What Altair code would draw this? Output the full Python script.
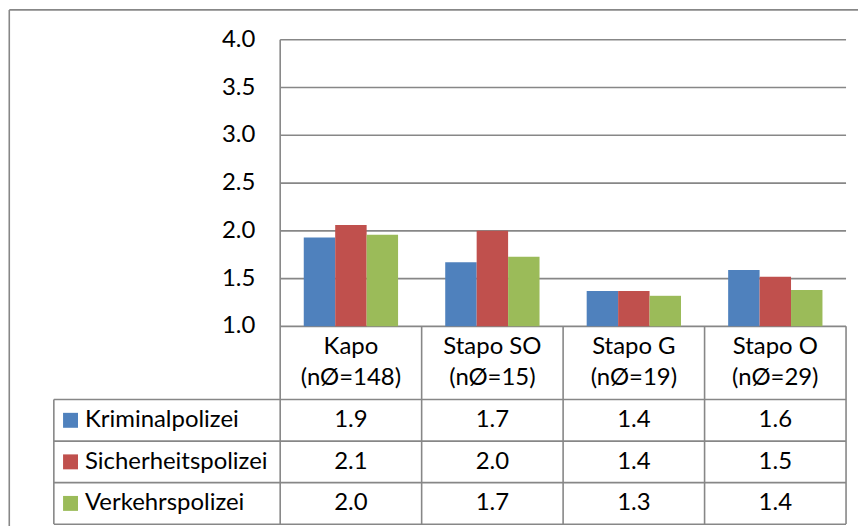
import altair as alt
import pandas as pd

# ---------------- data ----------------
categories = ["Kapo", "Stapo SO", "Stapo G", "Stapo O"]
sample_sizes = ["(nØ=148)", "(nØ=15)", "(nØ=19)", "(nØ=29)"]
series = ["Kriminalpolizei", "Sicherheitspolizei", "Verkehrspolizei"]
kriminal = [1.93, 1.67, 1.37, 1.59]
sicherheit = [2.06, 2.00, 1.37, 1.52]
verkehr = [1.96, 1.73, 1.32, 1.38]
y_ticks = [1.0, 1.5, 2.0, 2.5, 3.0, 3.5, 4.0]
colors = ["#4F81BD", "#C0504D", "#9BBB59"]

# ---------------- layout (data units) ----------------
X_MIN, X_MAX = -1.6, 4.0          # legend column + 4 category columns
Y_MIN, Y_MAX = -1.07, 4.0         # table rows below the value axis
BASE = 1.0
HEADER_BOTTOM = 0.234
ROW_H = 0.435
HEAD_Y1, HEAD_Y2 = 0.787, 0.464
FONT = "Lato"
FS = 24
LINE = "#878787"

values = [kriminal, sicherheit, verkehr]

xs = alt.Scale(domain=[X_MIN, X_MAX], nice=False, zero=False)
ys = alt.Scale(domain=[Y_MIN, Y_MAX], nice=False, zero=False)


def X(f):
    return alt.X(f, type="quantitative", scale=xs, axis=None)


def Y(f):
    return alt.Y(f, type="quantitative", scale=ys, axis=None)


# bars
bar_rows = []
for ci, cat in enumerate(categories):
    for si, s in enumerate(series):
        x0 = ci + 1 / 6 + si * 2 / 9
        bar_rows.append({"cat": cat, "series": s, "x": x0, "x2": x0 + 2 / 9,
                         "v": values[si][ci], "base": BASE})
bars_df = pd.DataFrame(bar_rows)

color_scale = alt.Scale(domain=series, range=colors)

bars = alt.Chart(bars_df).mark_rect().encode(
    x=X("x"), x2="x2", y=Y("v"), y2="base",
    color=alt.Color("series:N", scale=color_scale, legend=None),
)

# gridlines
grid_df = pd.DataFrame({"y": y_ticks, "x": 0.0, "x2": 4.0})
grid = alt.Chart(grid_df).mark_rule(color=LINE, strokeWidth=1.6).encode(
    x=X("x"), x2="x2", y=Y("y"))

tick_labels = alt.Chart(grid_df).mark_text(
    align="right", baseline="middle", font=FONT, fontSize=FS, color="#000", dx=-25
).encode(x=X("x"), y=Y("y"), text=alt.Text("y:Q", format=".1f"))

# table horizontal lines
row_lines = [HEADER_BOTTOM - i * ROW_H for i in range(4)]
hline_df = pd.DataFrame({"y": row_lines, "x": X_MIN, "x2": X_MAX})
hlines = alt.Chart(hline_df).mark_rule(color=LINE, strokeWidth=1.6).encode(
    x=X("x"), x2="x2", y=Y("y"))

# table vertical lines
vline_df = pd.DataFrame({
    "x": [X_MIN, 0, 1, 2, 3, 4],
    "y": [Y_MIN] * 6,
    "y2": [HEADER_BOTTOM, Y_MAX, BASE, BASE, BASE, BASE],
})
vlines = alt.Chart(vline_df).mark_rule(color=LINE, strokeWidth=1.6).encode(
    x=X("x"), y=Y("y"), y2="y2")

# outer chart border (top and left)
border_df = pd.DataFrame({
    "x": [-1.915, -1.915], "x2": [4.2, -1.915],
    "y": [4.313, 4.313], "y2": [4.313, -1.2],
})
border = alt.Chart(border_df).mark_rule(color=LINE, strokeWidth=1.6).encode(
    x=X("x"), x2="x2", y=Y("y"), y2="y2")

# header text (two lines per column)
head_df = pd.DataFrame({
    "x": [i + 0.5 for i in range(len(categories))],
    "cat": categories,
    "n": sample_sizes,
    "y1": HEAD_Y1,
    "y2": HEAD_Y2,
})
header1 = alt.Chart(head_df).mark_text(
    align="center", baseline="middle", font=FONT, fontSize=FS, color="#000"
).encode(x=X("x"), y=Y("y1"), text="cat:N")
header2 = alt.Chart(head_df).mark_text(
    align="center", baseline="middle", font=FONT, fontSize=FS, color="#000"
).encode(x=X("x"), y=Y("y2"), text="n:N")

# table values
val_rows = []
for si, s in enumerate(series):
    yc = HEADER_BOTTOM - (si + 0.5) * ROW_H
    for ci, cat in enumerate(categories):
        val_rows.append({"x": ci + 0.5, "y": yc, "v": values[si][ci]})
val_df = pd.DataFrame(val_rows)
table_vals = alt.Chart(val_df).mark_text(
    align="center", baseline="middle", font=FONT, fontSize=FS, color="#000"
).encode(x=X("x"), y=Y("y"), text=alt.Text("v:Q", format=".1f"))

# legend column
leg_df = pd.DataFrame({
    "series": series,
    "y": [HEADER_BOTTOM - (i + 0.5) * ROW_H for i in range(len(series))],
    "xs": -1.482, "xt": -1.38,
})
leg_sw = alt.Chart(leg_df).mark_point(shape="square", filled=True, size=225, opacity=1).encode(
    x=X("xs"), y=Y("y"),
    color=alt.Color("series:N", scale=color_scale, legend=None))
leg_tx = alt.Chart(leg_df).mark_text(
    align="left", baseline="middle", font=FONT, fontSize=FS, color="#000"
).encode(x=X("xt"), y=Y("y"), text="series:N")

chart = alt.layer(
    grid, bars, hlines, vlines, border, tick_labels, header1, header2,
    table_vals, leg_sw, leg_tx
).properties(
    width=795, height=486,
    autosize=alt.AutoSizeParams(type="none"),
    padding={"left": 46, "top": 31, "right": 12, "bottom": 1},
    background="white",
).configure_view(strokeWidth=0)

chart.save("out.html", embed_options={"renderer": "svg", "actions": False})
